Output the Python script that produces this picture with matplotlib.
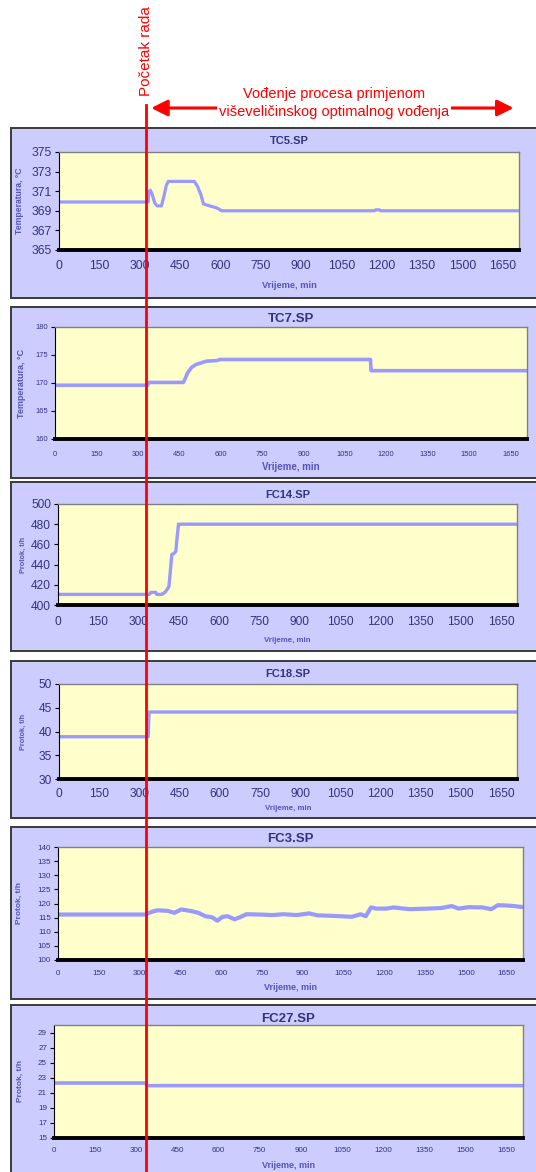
import matplotlib.pyplot as plt
from matplotlib.patches import Rectangle, FancyArrowPatch
from matplotlib.lines import Line2D

plt.rcParams['font.family'] = ['Liberation Sans', 'DejaVu Sans']

W, H = 536, 1172

# --- podaci (vrijeme u min, vrijednost) ---
t_tc5 = [0, 332, 334, 340, 346, 356, 365, 381, 391, 399, 406, 503, 515, 528, 537, 560, 586, 605,
         1172, 1178, 1190, 1196, 1710]
v_tc5 = [369.9, 369.9, 371.0, 371.1, 370.7, 369.8, 369.5, 369.5, 370.6, 371.6, 372.0, 372.0, 371.5,
         370.6, 369.7, 369.5, 369.3, 369.0, 369.0, 369.1, 369.1, 369.0, 369.0]

t_tc7 = [0, 336, 338, 465, 470, 480, 495, 511, 530, 548, 586, 599, 1143, 1145, 1710]
v_tc7 = [169.6, 169.6, 170.1, 170.1, 170.6, 171.8, 172.8, 173.3, 173.6, 173.9, 174.0, 174.2, 174.2,
         172.2, 172.2]

t_fc14 = [0, 340, 346, 364, 368, 387, 400, 413, 418, 424, 432, 439, 443, 449, 1710]
v_fc14 = [410.5, 410.5, 412.5, 412.5, 410.5, 410.5, 413, 418, 432, 450, 451, 453, 465, 480, 480]

t_fc18 = [0, 333, 336, 1710]
v_fc18 = [38.9, 38.9, 44.1, 44.1]

t_fc3 = [0, 321, 346, 365, 403, 428, 453, 491, 516, 542, 567, 586, 605, 624, 649, 668, 693, 741,
         790, 828, 879, 923, 955, 1018, 1081, 1113, 1132, 1151, 1170, 1208, 1234, 1271, 1296, 1359,
         1410, 1448, 1473, 1511, 1561, 1593, 1618, 1650, 1675, 1713]
v_fc3 = [116.1, 116.1, 117.1, 117.6, 117.4, 116.7, 117.9, 117.3, 116.7, 115.5, 115.1, 113.9, 115.3,
         115.5, 114.4, 115.1, 116.2, 116.1, 115.9, 116.2, 115.9, 116.5, 115.8, 115.6, 115.3, 116.2,
         115.5, 118.6, 118.2, 118.2, 118.6, 118.2, 118.0, 118.2, 118.4, 119.1, 118.2, 118.7, 118.6,
         118.0, 119.4, 119.3, 119.1, 118.7]

t_fc27 = [0, 336, 338, 1710]
v_fc27 = [22.3, 22.3, 21.95, 21.95]

names = ['TC5.SP', 'TC7.SP', 'FC14.SP', 'FC18.SP', 'FC3.SP', 'FC27.SP']
series = [(t_tc5, v_tc5), (t_tc7, v_tc7), (t_fc14, v_fc14), (t_fc18, v_fc18), (t_fc3, v_fc3), (t_fc27, v_fc27)]
ylims = [(365, 375), (160, 180), (400, 500), (30, 50), (100, 140), (15, 30)]
yticks = [range(365, 376, 2), range(160, 181, 5), range(400, 501, 20), range(30, 51, 5),
          range(100, 141, 5), range(15, 30, 2)]
ylabels = ['Temperatura, °C', 'Temperatura, °C', 'Protok, t/h', 'Protok, t/h', 'Protok, t/h', 'Protok, t/h']
xticks = list(range(0, 1651, 150))
X_MAX = 1710
START_MIN = 325   # početak rada
END_MIN = 1700

# --- raspored u pikselima ---
# box (top, bottom), plot (left, top, right, bottom), title y, xlabel y, ylabel x,
# tick fontsize, title fontsize, label fontsize, xtick pad, debljina linije
layout = [
    dict(box=(128, 298), plot=(59, 152, 519, 250), ty=141, xly=286, ylx=20, fs=8.8, tfs=8, lfs=6.2, pad=7.5, lw=2.3),
    dict(box=(307, 478), plot=(55, 327, 527, 439), ty=319, xly=467, ylx=21, fs=5.4, tfs=9.5, lfs=6.5, pad=9, lw=2.6),
    dict(box=(482, 651), plot=(58, 504, 517, 605), ty=495, xly=641, ylx=23, fs=8.6, tfs=8, lfs=5.2, pad=8, lw=2.4),
    dict(box=(661, 818), plot=(59, 684, 517, 779), ty=674, xly=808, ylx=23, fs=8.6, tfs=8, lfs=5.2, pad=6.5, lw=2.4),
    dict(box=(827, 999), plot=(58, 847, 523, 960), ty=839, xly=987, ylx=19, fs=5.8, tfs=9.5, lfs=6.0, pad=7, lw=3.0),
    dict(box=(1005, 1190), plot=(54, 1025, 523, 1138), ty=1019, xly=1165, ylx=20, fs=5.8, tfs=9.5, lfs=6.0, pad=6.5, lw=2.6),
]

PANEL_BG = '#CCCCFF'
PLOT_BG = '#FFFFCC'
LINE_C = '#9999FF'
TXT_DARK = '#333380'
TXT_LAB = '#5555B8'
RED = '#FF0000'


def fx(px):
    return px / W


def fy(py):
    return 1 - py / H


fig = plt.figure(figsize=(W / 100, H / 100), dpi=100)
fig.patch.set_facecolor('white')

axes = []
for i, lay in enumerate(layout):
    top, bot = lay['box']
    fig.add_artist(Rectangle((fx(11), fy(bot)), fx(545 - 11), (bot - top) / H,
                             transform=fig.transFigure, facecolor=PANEL_BG,
                             edgecolor='#3a3a3a', linewidth=1.4, zorder=-1))
    l, t, r, b = lay['plot']
    ax = fig.add_axes([fx(l), fy(b), fx(r - l), (b - t) / H])
    ax.set_facecolor(PLOT_BG)
    tt, vv = series[i]
    ax.plot(tt, vv, color=LINE_C, linewidth=lay['lw'], solid_joinstyle='round')
    ax.set_xlim(0, X_MAX)
    ax.set_ylim(*ylims[i])
    ax.set_xticks(xticks)
    ax.set_yticks(list(yticks[i]))
    for s in ['top', 'right']:
        ax.spines[s].set_color('#808080')
        ax.spines[s].set_linewidth(1.0)
    ax.spines['left'].set_color('black')
    ax.spines['left'].set_linewidth(0.8)
    ax.spines['bottom'].set_color('black')
    ax.spines['bottom'].set_linewidth(2.8)
    ax.tick_params(axis='y', direction='out', length=3, width=0.8, color='black',
                   labelsize=lay['fs'], labelcolor=TXT_DARK, pad=2)
    ax.tick_params(axis='x', length=0, labelsize=lay['fs'], labelcolor=TXT_DARK, pad=lay['pad'])

    fig.text(fx((l + r) / 2), fy(lay['ty']), names[i], ha='center', va='center',
             fontsize=lay['tfs'], fontweight='bold', color=TXT_DARK)
    fig.text(fx((l + r) / 2), fy(lay['xly']), 'Vrijeme, min', ha='center', va='center',
             fontsize=lay['lfs'] + 0.5, fontweight='bold', color=TXT_LAB)
    fig.text(fx(lay['ylx']), fy((t + b) / 2), ylabels[i], ha='center', va='center',
             rotation=90, fontsize=lay['lfs'], fontweight='bold', color=TXT_LAB)
    axes.append(ax)

# položaj početka rada i kraja u koordinatama slike
to_fig = fig.transFigure.inverted()
x_start = to_fig.transform(axes[0].transData.transform((START_MIN, ylims[0][0])))[0]
x_end = to_fig.transform(axes[0].transData.transform((END_MIN, ylims[0][0])))[0]

fig.add_artist(Line2D([x_start, x_start], [fy(105), 0], transform=fig.transFigure,
                      color=RED, linewidth=2.0, zorder=20))
fig.text(x_start, fy(96), 'Početak rada', rotation=90, ha='center', va='bottom',
         fontsize=11, color=RED, zorder=21)

y_arr = fy(108)
fig.add_artist(FancyArrowPatch((x_start + fx(2), y_arr), (x_end, y_arr), transform=fig.transFigure,
                               arrowstyle='<|-|>,head_length=0.7,head_width=0.35', mutation_scale=14,
                               color=RED, linewidth=2.2, zorder=20))
fig.text(fx(334), fy(103), 'Vođenje procesa primjenom\nviševeličinskog optimalnog vođenja',
         ha='center', va='center', fontsize=10.5, color=RED, linespacing=1.3, zorder=22,
         bbox=dict(facecolor='white', edgecolor='none', pad=1.5))

fig.savefig('out.png', dpi=100)
